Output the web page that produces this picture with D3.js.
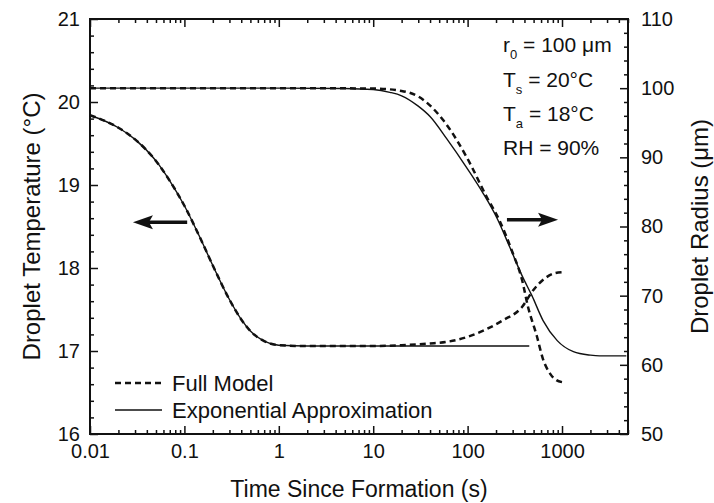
<!DOCTYPE html>
<html>
<head>
<meta charset="utf-8">
<script src="https://cdn.jsdelivr.net/npm/d3@7"></script>
<style>
  body { margin: 0; background: #fff; }
  text { font-family: "Liberation Sans", Arial, sans-serif; fill: #111; }
</style>
</head>
<body>
<svg id="chart" width="714" height="503"></svg>
<script>
// ---- data ----
// temperature, exponential approximation (left axis)
const tempExpTime = [0.01, 0.02, 0.03, 0.05, 0.07, 0.1, 0.15, 0.2, 0.3, 0.4, 0.5, 0.7, 1, 2, 5, 10, 50, 100, 450];
const tempExpVal  = [19.84, 19.69, 19.55, 19.29, 19.05, 18.75, 18.34, 18.03, 17.62, 17.38, 17.24, 17.12, 17.07, 17.06, 17.06, 17.06, 17.06, 17.06, 17.06];
// temperature, full model
const tempFullTime = [0.01, 0.02, 0.03, 0.05, 0.07, 0.1, 0.15, 0.2, 0.3, 0.4, 0.5, 0.7, 1, 2, 5, 10, 20, 40, 60, 100, 150, 237, 377, 493, 650, 850, 1000];
const tempFullVal  = [19.84, 19.69, 19.55, 19.29, 19.05, 18.75, 18.34, 18.03, 17.62, 17.38, 17.24, 17.12, 17.07, 17.06, 17.06, 17.06, 17.07, 17.09, 17.11, 17.17, 17.25, 17.37, 17.53, 17.73, 17.87, 17.94, 17.95];
// radius, exponential approximation (right axis)
const radExpTime = [0.01, 1, 5, 10, 15, 20, 30, 40, 60, 100, 146, 205, 280, 377, 480, 630, 890, 1320, 2000, 2500, 4800];
const radExpVal  = [100, 100, 99.95, 99.8, 99.4, 98.9, 97.4, 95.9, 92.7, 88.3, 84.8, 81.2, 77.0, 72.9, 70.0, 66.4, 63.5, 61.9, 61.4, 61.3, 61.3];
// radius, full model
const radFullTime = [0.01, 1, 10, 20, 30, 55, 98, 159, 217, 300, 377, 436, 540, 630, 750, 870, 1000];
const radFullVal  = [100, 100, 99.95, 99.6, 98.8, 95.4, 90.0, 84.3, 80.9, 76.2, 72.3, 68.4, 64.2, 60.8, 58.7, 57.8, 57.5];

const xTickVals = [0.01, 0.1, 1, 10, 100, 1000];
const xTickLabels = ["0.01", "0.1", "1", "10", "100", "1000"];
const tempTicks = [16, 17, 18, 19, 20, 21];
const radTicks = [50, 60, 70, 80, 90, 100, 110];

const margin = { top: 19, right: 86, bottom: 69, left: 90 },
    width = 714 - margin.left - margin.right,
    height = 503 - margin.top - margin.bottom;

const svg = d3.select("#chart");
const g = svg.append("g").attr("transform", `translate(${margin.left},${margin.top})`);

const x = d3.scaleLog().domain([0.01, 5000]).range([0, width]);
const yT = d3.scaleLinear().domain([16, 21]).range([height, 0]);
const yR = d3.scaleLinear().domain([50, 110]).range([height, 0]);

// minor ticks
const xMinor = x.ticks().filter(d => !xTickVals.some(v => Math.abs(v - d) / v < 1e-6));
const tMinor = d3.range(16, 21.001, 0.2).filter(d => Math.abs(d - Math.round(d)) > 1e-6);
const rMinor = d3.range(50, 110.001, 2).filter(d => d % 10 !== 0);

function styleAxis(sel) {
    sel.select(".domain").remove();
    sel.selectAll(".tick line").attr("stroke", "#111").attr("stroke-width", 1.5);
    sel.selectAll(".tick text").style("font-size", "20px").attr("fill", "#111");
}

// bottom
g.append("g").attr("transform", `translate(0,${height})`)
    .call(d3.axisBottom(x).tickValues(xTickVals).tickFormat((d, i) => xTickLabels[i]).tickSizeInner(-8).tickPadding(10))
    .call(styleAxis);
g.append("g").attr("transform", `translate(0,${height})`)
    .call(d3.axisBottom(x).tickValues(xMinor).tickFormat("").tickSizeInner(-4))
    .call(styleAxis);
// top
g.append("g")
    .call(d3.axisTop(x).tickValues(xTickVals).tickFormat("").tickSizeInner(-8))
    .call(styleAxis);
g.append("g")
    .call(d3.axisTop(x).tickValues(xMinor).tickFormat("").tickSizeInner(-4))
    .call(styleAxis);
// left
g.append("g")
    .call(d3.axisLeft(yT).tickValues(tempTicks).tickFormat(d3.format("d")).tickSizeInner(-8).tickPadding(10))
    .call(styleAxis);
g.append("g")
    .call(d3.axisLeft(yT).tickValues(tMinor).tickFormat("").tickSizeInner(-4))
    .call(styleAxis);
// right
g.append("g").attr("transform", `translate(${width},0)`)
    .call(d3.axisRight(yR).tickValues(radTicks).tickFormat(d3.format("d")).tickSizeInner(-8).tickPadding(13))
    .call(styleAxis);
g.append("g").attr("transform", `translate(${width},0)`)
    .call(d3.axisRight(yR).tickValues(rMinor).tickFormat("").tickSizeInner(-4))
    .call(styleAxis);

// frame
g.append("rect")
    .attr("width", width).attr("height", height)
    .attr("fill", "none").attr("stroke", "#111").attr("stroke-width", 2);

// curves
const lineT = d3.line().x(d => x(d[0])).y(d => yT(d[1])).curve(d3.curveMonotoneX);
const lineR = d3.line().x(d => x(d[0])).y(d => yR(d[1])).curve(d3.curveMonotoneX);

const solid = { stroke: "#111", width: 1.4, dash: null };
const dashed = { stroke: "#111", width: 2.5, dash: "6,4" };

function draw(times, vals, line, st) {
    g.append("path")
        .datum(times.map((t, i) => [t, vals[i]]))
        .attr("d", line)
        .attr("fill", "none")
        .attr("stroke", st.stroke)
        .attr("stroke-width", st.width)
        .attr("stroke-dasharray", st.dash);
}
draw(tempExpTime, tempExpVal, lineT, solid);
draw(radExpTime, radExpVal, lineR, solid);
draw(tempFullTime, tempFullVal, lineT, dashed);
draw(radFullTime, radFullVal, lineR, dashed);

// arrows
function arrow(t0, t1, T) {
    const x0 = x(t0), x1 = x(t1), yy = yT(T);
    const dir = x1 > x0 ? 1 : -1;
    const hl = 20, hw = 7;
    g.append("line")
        .attr("x1", x0).attr("y1", yy)
        .attr("x2", x1 - dir * hl * 0.7).attr("y2", yy)
        .attr("stroke", "#111").attr("stroke-width", 3.5);
    g.append("path")
        .attr("d", `M${x1},${yy} L${x1 - dir * hl},${yy - hw} L${x1 - dir * hl * 0.8},${yy} L${x1 - dir * hl},${yy + hw} Z`)
        .attr("fill", "#111");
}
arrow(0.107, 0.0285, 18.55);
arrow(261, 908, 18.58);

// annotation block
const ann = g.append("g").attr("transform", "translate(413,0)").style("font-size", "21px");
function annLine(y, main, sub, rest) {
    const t = ann.append("text").attr("x", 0).attr("y", y);
    t.append("tspan").text(main);
    t.append("tspan").attr("dy", 7).style("font-size", "13px").text(sub);
    t.append("tspan").attr("dy", -7).text(rest);
}
annLine(33, "r", "0", " = 100 μm");
annLine(68, "T", "s", " = 20°C");
annLine(102, "T", "a", " = 18°C");
ann.append("text").attr("x", 0).attr("y", 136).text("RH = 90%");

// legend
const leg = g.append("g").style("font-size", "22px");
leg.append("line").attr("x1", 25).attr("x2", 72).attr("y1", 364).attr("y2", 364)
    .attr("stroke", "#111").attr("stroke-width", 2.5).attr("stroke-dasharray", "6,4");
leg.append("text").attr("x", 82).attr("y", 372).text("Full Model");
leg.append("line").attr("x1", 25).attr("x2", 72).attr("y1", 391).attr("y2", 391)
    .attr("stroke", "#111").attr("stroke-width", 1.4);
leg.append("text").attr("x", 82).attr("y", 399).text("Exponential Approximation");

// axis titles
svg.append("text")
    .attr("x", margin.left + width / 2).attr("y", 497)
    .attr("text-anchor", "middle").style("font-size", "23px")
    .text("Time Since Formation (s)");
svg.append("text")
    .attr("transform", `translate(40,${margin.top + height / 2}) rotate(-90)`)
    .attr("text-anchor", "middle").style("font-size", "24px")
    .text("Droplet Temperature (°C)");
svg.append("text")
    .attr("transform", `translate(708,${margin.top + height / 2}) rotate(-90)`)
    .attr("text-anchor", "middle").style("font-size", "24px")
    .text("Droplet Radius (μm)");
</script>
</body>
</html>
